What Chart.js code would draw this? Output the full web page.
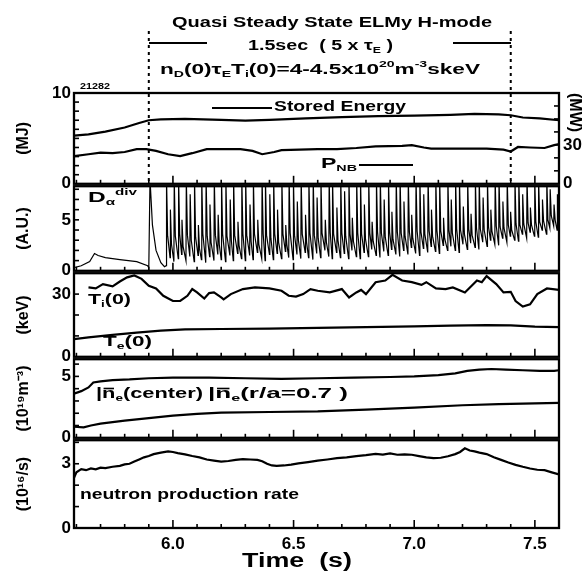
<!DOCTYPE html>
<html>
<head>
<meta charset="utf-8">
<title>Quasi Steady State ELMy H-mode</title>
<script src="https://cdn.jsdelivr.net/npm/chart.js@4.4.1/dist/chart.umd.min.js"></script>
<style>
  body { margin: 0; background: #fff; }
  #fig { position: relative; width: 588px; height: 575px; overflow: hidden; background: #fff; }
  #fig canvas { position: absolute; left: 0; }
</style>
</head>
<body>
<div id="fig">
  <canvas id="c1" width="588" height="198" style="top:0px"></canvas>
  <canvas id="c2" width="588" height="111" style="top:173px"></canvas>
  <canvas id="c3" width="588" height="110" style="top:260px"></canvas>
  <canvas id="c4" width="588" height="105" style="top:346px"></canvas>
  <canvas id="c5" width="588" height="148" style="top:427px"></canvas>
</div>
<script>
// time axis (s)
var xMin = 5.59, xMax = 7.6;
var xTicks = [6, 6.5, 7, 7.5];
var hmodeStart = 5.9, hmodeEnd = 7.4;

// stored energy (MJ)
var seTime  = [5.59, 5.65, 5.72, 5.80, 5.86, 5.90, 5.95, 6.05, 6.20, 6.30, 6.40, 6.55, 6.70, 6.85, 7.00, 7.15, 7.25, 7.35, 7.40, 7.45, 7.52, 7.60];
var seValue = [5.3, 5.45, 5.75, 6.2, 6.7, 7.0, 7.1, 7.15, 7.05, 6.95, 7.05, 7.2, 7.35, 7.45, 7.5, 7.6, 7.7, 7.65, 7.55, 7.3, 7.2, 7.0];

// neutral beam power (MW)
var pnbTime  = [5.59, 5.65, 5.70, 5.75, 5.80, 5.85, 5.89, 5.93, 5.98, 6.03, 6.08, 6.14, 6.28, 6.33, 6.37, 6.42, 6.45, 6.60, 6.68, 6.76, 6.84, 6.95, 6.99, 7.04, 7.07, 7.20, 7.30, 7.37, 7.40, 7.43, 7.48, 7.54, 7.58, 7.60];
var pnbValue = [21.4, 22.8, 24.1, 23.6, 24.5, 26.7, 26.7, 25.4, 22.8, 21.4, 23.6, 26.7, 26.7, 25.4, 22.8, 24.5, 26, 26.7, 26.7, 27.6, 28.9, 29.3, 29.8, 28, 27.1, 27.1, 27.1, 26.3, 24.9, 28.4, 28, 27.6, 29.8, 30.6];

// D-alpha divertor (A.U.): L-mode part and first big spike
var daPreTime  = [5.59, 5.62, 5.655, 5.675, 5.69, 5.72, 5.78, 5.85, 5.895, 5.90, 5.905, 5.915, 5.93, 5.95, 5.965];
var daPreValue = [0.3, 0.5, 0.9, 1.7, 1.5, 1.3, 1.1, 0.9, 0.5, 0.3, 9, 4.5, 2.0, 0.8, 0.4];
// ELMs: onset time, level just before, peak, level shortly after
var elmTime  = [5.972, 5.988, 6.004, 6.022, 6.036, 6.054, 6.07, 6.088, 6.104, 6.118, 6.136, 6.152, 6.17, 6.186, 6.2, 6.218, 6.236, 6.25, 6.268, 6.284,
                6.3, 6.318, 6.332, 6.35, 6.368, 6.382, 6.4, 6.416, 6.432, 6.45, 6.466, 6.48, 6.498, 6.514, 6.53, 6.548, 6.562, 6.58, 6.596, 6.612,
                6.63, 6.646, 6.66, 6.678, 6.694, 6.71, 6.728, 6.742, 6.76, 6.776, 6.792, 6.81, 6.824, 6.842, 6.858, 6.874, 6.892, 6.906, 6.924, 6.94,
                6.956, 6.974, 6.988, 7.006, 7.022, 7.038, 7.056, 7.07, 7.088, 7.104, 7.12, 7.138, 7.152, 7.17, 7.186, 7.202, 7.22, 7.234, 7.252, 7.268,
                7.284, 7.302, 7.316, 7.334, 7.35, 7.366, 7.384, 7.398, 7.416, 7.432, 7.448, 7.466, 7.48, 7.498, 7.514, 7.53, 7.548, 7.562, 7.578, 7.592];
var elmFloor = [0.5, 1.3, 0.9, 1.2, 1.6, 1.0, 1.4, 0.9, 1.5, 1.1, 0.8, 1.4, 1.0, 1.6, 1.1, 0.9, 1.5, 1.0, 1.7, 1.2,
                1.0, 1.5, 1.1, 1.8, 1.2, 1.0, 1.6, 1.1, 1.7, 1.2, 1.9, 1.3, 1.1, 1.6, 1.2, 1.8, 1.3, 1.1, 1.7, 1.3,
                2.0, 1.4, 1.2, 1.8, 1.3, 1.7, 1.2, 2.0, 1.4, 1.2, 1.8, 1.4, 2.1, 1.5, 1.3, 1.9, 1.5, 2.1, 1.6, 1.4,
                2.0, 1.6, 2.3, 1.7, 1.5, 2.2, 1.8, 2.4, 1.9, 1.7, 2.5, 2.0, 2.4, 2.0, 1.8, 2.6, 2.1, 2.7, 2.3, 2.1,
                2.8, 2.4, 3.0, 2.6, 2.5, 3.2, 2.8, 3.4, 3.0, 2.9, 3.6, 3.2, 3.8, 3.4, 3.3, 4.0, 3.6, 4.2, 4.4, 4.0];
var elmPeak  = [9, 6, 9, 9, 5, 9, 7.5, 9, 4.5, 9, 9, 6.5, 9, 5.5, 9, 9, 7, 9, 4.8, 9,
                9, 6.5, 9, 5, 9, 9, 7.5, 9, 6, 9, 4.5, 9, 9, 6.8, 9, 5.5, 9, 9, 7.2, 9,
                5, 9, 9, 6.2, 9, 7.8, 9, 5.2, 9, 9, 6.5, 9, 4.8, 9, 9, 7, 9, 5.8, 9, 9,
                6.8, 9, 5.5, 9, 9, 7.5, 9, 6, 9, 9, 5.2, 9, 7, 9, 9, 6.3, 9, 5.6, 9, 9,
                7.2, 9, 6, 9, 9, 6.8, 9, 5.8, 9, 9, 7.5, 9, 6.2, 9, 9, 7, 9, 8, 6.5, 7.5];
var elmAfter = [3.5, 2.6, 3.4, 3.6, 2.4, 3.5, 3.0, 3.3, 2.2, 3.6, 3.4, 2.8, 3.5, 2.6, 3.6, 3.4, 3.0, 3.5, 2.5, 3.6,
                3.5, 2.9, 3.6, 2.6, 3.6, 3.5, 3.2, 3.6, 2.8, 3.6, 2.6, 3.7, 3.5, 3.0, 3.6, 2.8, 3.7, 3.5, 3.2, 3.7,
                2.8, 3.7, 3.6, 3.0, 3.7, 3.4, 3.6, 2.9, 3.7, 3.6, 3.1, 3.7, 2.9, 3.8, 3.7, 3.3, 3.8, 3.1, 3.8, 3.7,
                3.4, 3.8, 3.2, 3.9, 3.8, 3.6, 3.9, 3.4, 4.0, 3.9, 3.2, 4.0, 3.7, 4.1, 4.0, 3.6, 4.1, 3.5, 4.2, 4.1,
                4.0, 4.3, 3.9, 4.4, 4.3, 4.2, 4.5, 4.0, 4.6, 4.5, 4.6, 4.7, 4.5, 4.8, 4.8, 4.9, 5.0, 5.4, 5.0, 5.2];
var daTailTime = [7.6], daTailValue = [2.8];

// central ion temperature (keV)
var tiTime  = [5.65, 5.68, 5.71, 5.75, 5.78, 5.81, 5.84, 5.87, 5.90, 5.93, 5.96, 6.00, 6.03, 6.06, 6.08, 6.10, 6.13, 6.15, 6.17, 6.20,
               6.21, 6.24, 6.29, 6.34, 6.40, 6.45, 6.48, 6.51, 6.54, 6.57, 6.60, 6.65, 6.70, 6.73, 6.76, 6.78, 6.80, 6.84, 6.88, 6.91,
               6.95, 6.99, 7.03, 7.05, 7.09, 7.13, 7.16, 7.21, 7.26, 7.28, 7.30, 7.34, 7.37, 7.40, 7.42, 7.45, 7.48, 7.51, 7.55, 7.60];
var tiValue = [33.2, 32.7, 34.8, 33.7, 36, 38, 38.9, 37.3, 34, 32.7, 29.2, 26.7, 26.7, 29.2, 32.4, 30.8, 27.9, 30.5, 30.8, 28.4,
               27.5, 30, 32.4, 33.2, 32.7, 31.6, 29.2, 28.8, 30, 32.4, 31.6, 30.8, 32.4, 28.4, 30.8, 32, 30, 35.7, 36.5, 39.2,
               36.5, 35.7, 34.4, 35.7, 32.7, 32.4, 33.2, 30.8, 36.5, 35.7, 38.6, 34.8, 30.8, 31.1, 26.7, 24, 25.1, 30, 32.7, 32];
// central electron temperature (keV)
var teTime  = [5.59, 5.65, 5.75, 5.85, 5.95, 6.05, 6.20, 6.40, 6.60, 6.80, 7.00, 7.15, 7.30, 7.40, 7.50, 7.60];
var teValue = [8.5, 9.3, 10.5, 11.6, 12.5, 13.1, 13.3, 13.5, 13.8, 14.2, 14.6, 14.9, 15.2, 15.0, 14.4, 14.2];

// line averaged density (10^19 m^-3)
var neCTime  = [5.59, 5.62, 5.65, 5.67, 5.70, 5.75, 5.82, 5.90, 6.00, 6.15, 6.30, 6.45, 6.60, 6.75, 6.90, 7.00, 7.10, 7.17, 7.22, 7.27, 7.32, 7.38, 7.45, 7.52, 7.58, 7.60];
var neCValue = [3.6, 3.8, 4.1, 4.5, 4.6, 4.7, 4.75, 4.85, 4.9, 4.9, 4.85, 4.8, 4.85, 4.9, 4.95, 5.0, 5.1, 5.25, 5.45, 5.55, 5.6, 5.55, 5.5, 5.45, 5.45, 5.5];
var ne7Time  = [5.59, 5.63, 5.66, 5.70, 5.80, 5.90, 6.00, 6.10, 6.20, 6.40, 6.60, 6.80, 7.00, 7.20, 7.35, 7.50, 7.60];
var ne7Value = [0.9, 0.85, 1.0, 1.15, 1.4, 1.6, 1.8, 1.95, 2.05, 2.1, 2.15, 2.3, 2.45, 2.65, 2.75, 2.8, 2.85];

// neutron production rate (10^16 /s)
var snTime  = [5.59, 5.60, 5.62, 5.64, 5.66, 5.68, 5.70, 5.72, 5.75, 5.78, 5.80, 5.82, 5.84, 5.86, 5.88, 5.90, 5.92, 5.95, 5.98, 6.00,
               6.02, 6.05, 6.08, 6.11, 6.14, 6.17, 6.20, 6.23, 6.26, 6.29, 6.32, 6.35, 6.37, 6.39, 6.41, 6.43, 6.46, 6.49, 6.52, 6.56,
               6.60, 6.64, 6.68, 6.72, 6.76, 6.80, 6.84, 6.87, 6.90, 6.93, 6.96, 6.99, 7.02, 7.05, 7.08, 7.11, 7.14, 7.17, 7.19, 7.21,
               7.23, 7.25, 7.27, 7.30, 7.33, 7.36, 7.39, 7.42, 7.45, 7.48, 7.51, 7.54, 7.57, 7.60];
var snValue = [2.35, 2.6, 2.75, 2.7, 2.78, 2.74, 2.82, 2.8, 2.86, 2.9, 2.97, 3.0, 3.1, 3.2, 3.3, 3.36, 3.45, 3.52, 3.58, 3.55,
               3.5, 3.44, 3.36, 3.3, 3.2, 3.15, 3.1, 3.13, 3.18, 3.22, 3.2, 3.18, 3.12, 3.0, 2.92, 2.9, 2.92, 2.96, 3.02, 3.08,
               3.15, 3.2, 3.26, 3.3, 3.36, 3.4, 3.46, 3.43, 3.48, 3.42, 3.44, 3.42, 3.36, 3.3, 3.26, 3.28, 3.35, 3.45, 3.55, 3.72,
               3.62, 3.58, 3.52, 3.45, 3.3, 3.18, 3.06, 2.95, 2.86, 2.78, 2.72, 2.7, 2.6, 2.5];

var FONT = '"Liberation Sans", Arial, Helvetica, sans-serif';
Chart.defaults.font.family = FONT;
Chart.defaults.font.weight = 'bold';
Chart.defaults.color = '#000';

function punti(t, v) {
  var out = [];
  for (var i = 0; i < t.length; i++) out.push({x: t[i], y: v[i]});
  return out;
}

// D-alpha trace: sharp rise at each ELM, quick fall, then slow decay
var daPunti = punti(daPreTime, daPreValue);
for (var i = 0; i < elmTime.length; i++) {
  daPunti.push({x: elmTime[i], y: elmFloor[i]});
  daPunti.push({x: elmTime[i] + 0.0015, y: elmPeak[i]});
  daPunti.push({x: elmTime[i] + 0.006, y: elmAfter[i]});
}
daPunti = daPunti.concat(punti(daTailTime, daTailValue));

// text with sub/superscripts, squeezed to a given width
function testo(ctx, x, y, parti, size, w) {
  var tot = 0, i, p, s;
  for (i = 0; i < parti.length; i++) {
    p = parti[i];
    s = (p[1] == 'sub' || p[1] == 'sup') ? size * 0.62 : size;
    ctx.font = 'bold ' + s + 'px ' + FONT;
    tot += ctx.measureText(p[0]).width;
  }
  var k = w ? w / tot : 1;
  ctx.save();
  ctx.translate(x, y);
  ctx.scale(k, 1);
  ctx.fillStyle = '#000';
  ctx.textBaseline = 'middle';
  ctx.textAlign = 'left';
  var cx = 0;
  for (i = 0; i < parti.length; i++) {
    p = parti[i];
    var small = p[1] == 'sub' || p[1] == 'sup';
    s = small ? size * 0.62 : size;
    ctx.font = 'bold ' + s + 'px ' + FONT;
    var dy = p[1] == 'sub' ? size * 0.3 : (p[1] == 'sup' ? -size * 0.35 : 0);
    ctx.fillText(p[0], cx, dy);
    var wd = ctx.measureText(p[0]).width;
    if (p[1] == 'bar') ctx.fillRect(cx + 1, -size * 0.42, wd - 2, 1.6);
    cx += wd;
  }
  ctx.restore();
}

function linea(ctx, x1, y1, x2, y2) {
  ctx.beginPath();
  ctx.moveTo(x1, y1);
  ctx.lineTo(x2, y2);
  ctx.stroke();
}

// frame, inward ticks, labels
var cornice = {
  id: 'cornice',
  afterDatasetsDraw: function(chart) {
    var o = chart.options.plugins.cornice;
    var ctx = chart.ctx, a = chart.chartArea;
    var x = chart.scales.x, y = chart.scales.y;
    var k, py, px;
    ctx.save();
    ctx.strokeStyle = '#000';
    ctx.lineWidth = 1.6;
    for (k = 56; k <= 76; k++) {
      px = x.getPixelForValue(k / 10);
      if (px < a.left + 2 || px > a.right - 2) continue;
      linea(ctx, px, a.bottom, px, a.bottom - (k % 5 == 0 ? 8 : 4));
    }
    for (k = 1; k * o.leftStep < y.max - 1e-6; k++) {
      py = y.getPixelForValue(k * o.leftStep);
      linea(ctx, a.left, py, a.left + 5, py);
    }
    if (o.rightStep) {
      var y2 = chart.scales.y2;
      for (k = 1; k * o.rightStep < y2.max - 1e-6; k++) {
        py = y2.getPixelForValue(k * o.rightStep);
        linea(ctx, a.right, py, a.right - 5, py);
      }
    }
    ctx.lineWidth = 2.3;
    ctx.strokeRect(a.left, a.top, a.right - a.left, a.bottom - a.top);

    (o.segs || []).forEach(function(s) {
      ctx.lineWidth = 1.8;
      linea(ctx, s[0], s[1] - o.top, s[2], s[3] - o.top);
    });
    (o.dashed || []).forEach(function(t) {
      px = x.getPixelForValue(t);
      ctx.lineWidth = 2;
      ctx.setLineDash([3, 4]);
      linea(ctx, px, 31 - o.top, px, a.bottom);
      ctx.setLineDash([]);
    });
    (o.texts || []).forEach(function(t) {
      testo(ctx, t.x, t.y - o.top, t.parts, t.size || 15, t.w);
    });
    ctx.restore();
  }
};

function pannello(p) {
  var scales = {
    x: {
      type: 'linear', min: xMin, max: xMax, display: !!p.xAxis,
      grid: {display: false, drawTicks: false}, border: {display: false},
      afterBuildTicks: function(s) { s.ticks = xTicks.map(function(v) { return {value: v}; }); },
      afterFit: function(s) { s.height = p.xAxis ? 47 : 0; },
      ticks: {padding: 6, color: '#000', font: {size: 17, weight: 'bold'}}
    },
    y: {
      type: 'linear', position: 'left', min: p.min, max: p.max,
      grid: {display: false, drawTicks: false}, border: {display: false},
      afterBuildTicks: function(s) { s.ticks = p.labels.map(function(v) { return {value: v}; }); },
      afterFit: function(s) { s.width = 74; },
      ticks: {padding: 3, color: '#000', font: {size: 17, weight: 'bold'}},
      title: {display: true, text: p.title, color: '#000', font: {size: 16, weight: 'bold'}, padding: {top: 14, bottom: 0}}
    }
  };
  if (p.y2) scales.y2 = p.y2;
  return new Chart(document.getElementById(p.id), {
    type: 'line',
    data: {datasets: p.datasets},
    options: {
      responsive: false, animation: false, devicePixelRatio: 1,
      layout: {padding: {top: p.padTop, bottom: p.padBottom, left: 0, right: p.y2 ? 0 : 29}},
      elements: {point: {radius: 0}, line: {tension: 0, borderColor: '#000', borderWidth: 2.2}},
      scales: scales,
      plugins: {
        legend: {display: false}, tooltip: {enabled: false},
        cornice: {top: p.top, leftStep: p.leftStep, rightStep: p.rightStep, texts: p.texts, segs: p.segs, dashed: p.dashed}
      }
    },
    plugins: [cornice]
  });
}

function serie(pts, axis, w) {
  return {data: pts, yAxisID: axis || 'y', borderColor: '#000', borderWidth: w || 2.2, pointRadius: 0, fill: false};
}

// stored energy and beam power
pannello({
  id: 'c1', top: 0, padTop: 93, padBottom: 13,
  min: 0, max: 10, labels: [0, 10], title: '(MJ)', leftStep: 1, rightStep: 10,
  y2: {
    type: 'linear', position: 'right', min: 0, max: 70,
    grid: {display: false, drawTicks: false}, border: {display: false},
    afterBuildTicks: function(s) { s.ticks = [{value: 0}, {value: 30}]; },
    afterFit: function(s) { s.width = 29; },
    ticks: {padding: 4, color: '#000', font: {size: 17, weight: 'bold'}},
    title: {display: true, text: '(MW)', align: 'end', color: '#000', font: {size: 16, weight: 'bold'}, padding: {top: 4, bottom: 0}}
  },
  datasets: [serie(punti(seTime, seValue)), serie(punti(pnbTime, pnbValue), 'y2')],
  dashed: [hmodeStart, hmodeEnd],
  segs: [[149, 43, 207, 43], [453, 43, 511, 43], [212, 108, 272, 108], [359, 165, 413, 165]],
  texts: [
    {x: 172, y: 23, w: 320, parts: [['Quasi Steady State ELMy H-mode']]},
    {x: 248, y: 46, w: 145, parts: [['1.5sec  ( 5 x τ'], ['E', 'sub'], [' )']]},
    {x: 160, y: 70, w: 320, parts: [['n'], ['D', 'sub'], ['(0)τ'], ['E', 'sub'], ['T'], ['i', 'sub'], ['(0)=4-4.5x10'], ['20', 'sup'], ['m'], ['-3', 'sup'], ['skeV']]},
    {x: 80, y: 87, w: 30, size: 9, parts: [['21282']]},
    {x: 274, y: 107, w: 132, parts: [['Stored Energy']]},
    {x: 321, y: 164, w: 36, parts: [['P'], ['NB', 'sub']]}
  ]
});

// D-alpha
pannello({
  id: 'c2', top: 173, padTop: 12, padBottom: 12,
  min: 0, max: 8.3, labels: [0, 5], title: '(A.U.)', leftStep: 1,
  datasets: [serie(daPunti, 'y', 1.2)],
  texts: [{x: 88, y: 198, w: 49, parts: [['D'], ['α', 'sub'], ['div', 'sup']]}]
});

// temperatures
pannello({
  id: 'c3', top: 260, padTop: 12, padBottom: 12,
  min: 0, max: 40, labels: [0, 30], title: '(keV)', leftStep: 10,
  datasets: [serie(punti(tiTime, tiValue)), serie(punti(teTime, teValue))],
  texts: [
    {x: 88, y: 300, w: 43, parts: [['T'], ['i', 'sub'], ['(0)']]},
    {x: 103, y: 342, w: 49, parts: [['T'], ['e', 'sub'], ['(0)']]}
  ]
});

// densities
pannello({
  id: 'c4', top: 346, padTop: 12, padBottom: 12,
  min: 0, max: 6.4, labels: [0, 5], title: '(10¹⁹m⁻³)', leftStep: 1,
  datasets: [serie(punti(neCTime, neCValue)), serie(punti(ne7Time, ne7Value))],
  texts: [
    {x: 96, y: 394, w: 107, parts: [['|'], ['n', 'bar'], ['e', 'sub'], ['(center)']]},
    {x: 208, y: 394, w: 140, parts: [['|'], ['n', 'bar'], ['e', 'sub'], ['(r/a=0.7 )']]}
  ]
});

// neutrons, with the time axis
pannello({
  id: 'c5', top: 427, padTop: 12, padBottom: 0, xAxis: true,
  min: 0, max: 4.1, labels: [0, 3], title: '(10¹⁶/s)', leftStep: 1,
  datasets: [serie(punti(snTime, snValue))],
  texts: [
    {x: 80, y: 495, w: 219, parts: [['neutron production rate']]},
    {x: 242, y: 561, w: 110, size: 20, parts: [['Time  (s)']]}
  ]
});
</script>
</body>
</html>
